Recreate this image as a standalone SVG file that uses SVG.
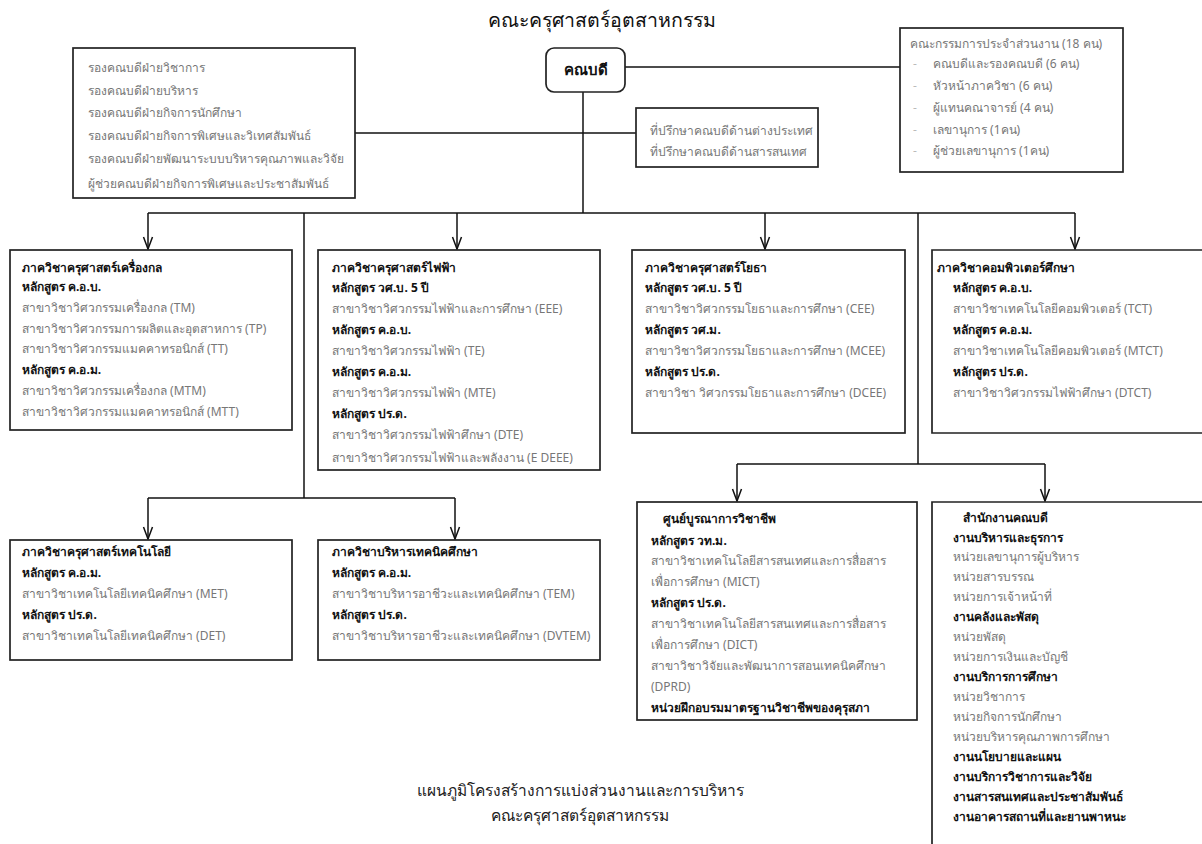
<svg xmlns="http://www.w3.org/2000/svg" width="1202" height="844" viewBox="0 0 1202 844">
<style>
text{font-family:"Noto Sans","DejaVu Sans",sans-serif;font-size:12px;}
.t{fill:#777;}
.b{fill:#111;font-weight:bold;}
.h{fill:#111;font-size:19.5px;}
.c{fill:#222;font-size:15.5px;}
.dash{fill:#bbb;}
.box{fill:#fff;stroke:#222;stroke-width:1.7;}
.ln{fill:none;stroke:#111;stroke-width:1.5;}
</style>
<defs>
<marker id="arr" viewBox="0 0 14 12" refX="13" refY="6" markerWidth="14" markerHeight="12" markerUnits="userSpaceOnUse" orient="auto">
<path d="M1,1.5 L13,6 L1,10.5" fill="none" stroke="#111" stroke-width="1.5"/>
</marker>
</defs>
<rect width="1202" height="844" fill="#fff"/>
<text class="h" x="602" y="27" text-anchor="middle">คณะครุศาสตร์อุตสาหกรรม</text>

<g id="connectors">
<path class="ln" d="M583,92 V213"/>
<path class="ln" d="M355,133 H636"/>
<path class="ln" d="M625,67 H900"/>
<path class="ln" d="M148,213 H1075"/>
<path class="ln" d="M148,213 V249" marker-end="url(#arr)"/>
<path class="ln" d="M457,213 V249" marker-end="url(#arr)"/>
<path class="ln" d="M765,213 V249" marker-end="url(#arr)"/>
<path class="ln" d="M1075,213 V249" marker-end="url(#arr)"/>
<path class="ln" d="M304,213 V498"/>
<path class="ln" d="M148,498 H455"/>
<path class="ln" d="M148,498 V539" marker-end="url(#arr)"/>
<path class="ln" d="M455,498 V539" marker-end="url(#arr)"/>
<path class="ln" d="M918,213 V464"/>
<path class="ln" d="M737,464 H1045"/>
<path class="ln" d="M737,464 V501" marker-end="url(#arr)"/>
<path class="ln" d="M1045,464 V501" marker-end="url(#arr)"/>
</g>

<g id="dean">
<rect class="box" x="546" y="48" width="79" height="44" rx="8"/>
<text class="b" x="585.5" y="75" text-anchor="middle" style="font-size:15px">คณบดี</text>
</g>

<g id="deputies">
<rect class="box" x="73" y="48" width="282" height="150"/>
<text class="t" x="88" y="72">รองคณบดีฝ่ายวิชาการ</text>
<text class="t" x="88" y="95">รองคณบดีฝ่ายบริหาร</text>
<text class="t" x="88" y="117">รองคณบดีฝ่ายกิจการนักศึกษา</text>
<text class="t" x="88" y="140">รองคณบดีฝ่ายกิจการพิเศษและวิเทศสัมพันธ์</text>
<text class="t" x="88" y="163">รองคณบดีฝ่ายพัฒนาระบบบริหารคุณภาพและวิจัย</text>
<text class="t" x="88" y="188">ผู้ช่วยคณบดีฝ่ายกิจการพิเศษและประชาสัมพันธ์</text>
</g>

<g id="advisors">
<rect class="box" x="636" y="108" width="182" height="59"/>
<text class="t" x="650" y="135">ที่ปรึกษาคณบดีด้านต่างประเทศ</text>
<text class="t" x="650" y="156">ที่ปรึกษาคณบดีด้านสารสนเทศ</text>
</g>

<g id="committee">
<rect class="box" x="900" y="28" width="223" height="144"/>
<text class="t" x="910" y="48">คณะกรรมการประจำส่วนงาน (18 คน)</text>
<text class="dash" x="913" y="68">-</text>
<text class="t" x="933" y="68">คณบดีและรองคณบดี (6 คน)</text>
<text class="dash" x="913" y="90">-</text>
<text class="t" x="933" y="90">หัวหน้าภาควิชา (6 คน)</text>
<text class="dash" x="913" y="112">-</text>
<text class="t" x="933" y="112">ผู้แทนคณาจารย์ (4 คน)</text>
<text class="dash" x="913" y="134">-</text>
<text class="t" x="933" y="134">เลขานุการ (1คน)</text>
<text class="dash" x="913" y="155">-</text>
<text class="t" x="933" y="155">ผู้ช่วยเลขานุการ  (1คน)</text>
</g>

<g id="mech">
<rect class="box" x="10" y="250" width="282" height="180"/>
<text class="b" x="22" y="272">ภาควิชาครุศาสตร์เครื่องกล</text>
<text class="b" x="22" y="291">หลักสูตร ค.อ.บ.</text>
<text class="t" x="22" y="312">สาขาวิชาวิศวกรรมเครื่องกล (TM)</text>
<text class="t" x="22" y="333">สาขาวิชาวิศวกรรมการผลิตและอุตสาหการ (TP)</text>
<text class="t" x="22" y="353">สาขาวิชาวิศวกรรมแมคคาทรอนิกส์ (TT)</text>
<text class="b" x="22" y="374">หลักสูตร ค.อ.ม.</text>
<text class="t" x="22" y="395">สาขาวิชาวิศวกรรมเครื่องกล (MTM)</text>
<text class="t" x="22" y="416">สาขาวิชาวิศวกรรมแมคคาทรอนิกส์ (MTT)</text>
</g>

<g id="elec">
<rect class="box" x="318" y="250" width="282" height="220"/>
<text class="b" x="332" y="272">ภาควิชาครุศาสตร์ไฟฟ้า</text>
<text class="b" x="332" y="292">หลักสูตร วศ.บ. 5 ปี</text>
<text class="t" x="332" y="313">สาขาวิชาวิศวกรรมไฟฟ้าและการศึกษา (EEE)</text>
<text class="b" x="332" y="334">หลักสูตร ค.อ.บ.</text>
<text class="t" x="332" y="355">สาขาวิชาวิศวกรรมไฟฟ้า (TE)</text>
<text class="b" x="332" y="376">หลักสูตร ค.อ.ม.</text>
<text class="t" x="332" y="397">สาขาวิชาวิศวกรรมไฟฟ้า (MTE)</text>
<text class="b" x="332" y="418">หลักสูตร ปร.ด.</text>
<text class="t" x="332" y="439">สาขาวิชาวิศวกรรมไฟฟ้าศึกษา (DTE)</text>
<text class="t" x="332" y="462">สาขาวิชาวิศวกรรมไฟฟ้าและพลังงาน (E DEEE)</text>
</g>

<g id="civil">
<rect class="box" x="632" y="250" width="273" height="183"/>
<text class="b" x="645" y="272">ภาควิชาครุศาสตร์โยธา</text>
<text class="b" x="645" y="292">หลักสูตร วศ.บ. 5 ปี</text>
<text class="t" x="645" y="313">สาขาวิชาวิศวกรรมโยธาและการศึกษา (CEE)</text>
<text class="b" x="645" y="334">หลักสูตร วศ.ม.</text>
<text class="t" x="645" y="355">สาขาวิชาวิศวกรรมโยธาและการศึกษา (MCEE)</text>
<text class="b" x="645" y="376">หลักสูตร ปร.ด.</text>
<text class="t" x="645" y="397">สาขาวิชา วิศวกรรมโยธาและการศึกษา (DCEE)</text>
</g>

<g id="comp">
<path class="box" d="M1202,250 H932 V433 H1202"/>
<text class="b" x="937" y="272">ภาควิชาคอมพิวเตอร์ศึกษา</text>
<text class="b" x="953" y="292">หลักสูตร ค.อ.บ.</text>
<text class="t" x="953" y="313">สาขาวิชาเทคโนโลยีคอมพิวเตอร์ (TCT)</text>
<text class="b" x="953" y="334">หลักสูตร ค.อ.ม.</text>
<text class="t" x="953" y="355">สาขาวิชาเทคโนโลยีคอมพิวเตอร์ (MTCT)</text>
<text class="b" x="953" y="376">หลักสูตร ปร.ด.</text>
<text class="t" x="953" y="397">สาขาวิชาวิศวกรรมไฟฟ้าศึกษา (DTCT)</text>
</g>

<g id="tech">
<rect class="box" x="10" y="540" width="282" height="120"/>
<text class="b" x="22" y="556">ภาควิชาครุศาสตร์เทคโนโลยี</text>
<text class="b" x="22" y="577">หลักสูตร ค.อ.ม.</text>
<text class="t" x="22" y="598">สาขาวิชาเทคโนโลยีเทคนิคศึกษา (MET)</text>
<text class="b" x="22" y="619">หลักสูตร ปร.ด.</text>
<text class="t" x="22" y="640">สาขาวิชาเทคโนโลยีเทคนิคศึกษา (DET)</text>
</g>

<g id="admin">
<rect class="box" x="318" y="540" width="282" height="120"/>
<text class="b" x="332" y="556">ภาควิชาบริหารเทคนิคศึกษา</text>
<text class="b" x="332" y="577">หลักสูตร ค.อ.ม.</text>
<text class="t" x="332" y="598">สาขาวิชาบริหารอาชีวะและเทคนิคศึกษา  (TEM)</text>
<text class="b" x="332" y="619">หลักสูตร ปร.ด.</text>
<text class="t" x="332" y="640">สาขาวิชาบริหารอาชีวะและเทคนิคศึกษา (DVTEM)</text>
</g>

<g id="center">
<rect class="box" x="637" y="502" width="280" height="218"/>
<text class="b" x="663" y="523">ศูนย์บูรณาการวิชาชีพ</text>
<text class="b" x="651" y="545">หลักสูตร วท.ม.</text>
<text class="t" x="651" y="565">สาขาวิชาเทคโนโลยีสารสนเทศและการสื่อสาร</text>
<text class="t" x="651" y="586">เพื่อการศึกษา (MICT)</text>
<text class="b" x="651" y="607">หลักสูตร ปร.ด.</text>
<text class="t" x="651" y="628">สาขาวิชาเทคโนโลยีสารสนเทศและการสื่อสาร</text>
<text class="t" x="651" y="649">เพื่อการศึกษา (DICT)</text>
<text class="t" x="651" y="670">สาขาวิชาวิจัยและพัฒนาการสอนเทคนิคศึกษา</text>
<text class="t" x="651" y="691">(DPRD)</text>
<text class="b" x="651" y="712">หน่วยฝึกอบรมมาตรฐานวิชาชีพของคุรุสภา</text>
</g>

<g id="office">
<path class="box" d="M1202,502 H932 V844"/>
<text class="b" x="963" y="522">สำนักงานคณบดี</text>
<text class="b" x="953" y="542">งานบริหารและธุรการ</text>
<text class="t" x="953" y="561">หน่วยเลขานุการผู้บริหาร</text>
<text class="t" x="953" y="581">หน่วยสารบรรณ</text>
<text class="t" x="953" y="601">หน่วยการเจ้าหน้าที่</text>
<text class="b" x="953" y="621">งานคลังและพัสดุ</text>
<text class="t" x="953" y="641">หน่วยพัสดุ</text>
<text class="t" x="953" y="661">หน่วยการเงินและบัญชี</text>
<text class="b" x="953" y="681">งานบริการการศึกษา</text>
<text class="t" x="953" y="701">หน่วยวิชาการ</text>
<text class="t" x="953" y="721">หน่วยกิจการนักศึกษา</text>
<text class="t" x="953" y="741">หน่วยบริหารคุณภาพการศึกษา</text>
<text class="b" x="953" y="761">งานนโยบายและแผน</text>
<text class="b" x="953" y="781">งานบริการวิชาการและวิจัย</text>
<text class="b" x="953" y="801">งานสารสนเทศและประชาสัมพันธ์</text>
<text class="b" x="953" y="821">งานอาคารสถานที่และยานพาหนะ</text>
</g>

<text class="c" x="580" y="796" text-anchor="middle">แผนภูมิโครงสร้างการแบ่งส่วนงานและการบริหาร</text>
<text class="c" x="580" y="821" text-anchor="middle">คณะครุศาสตร์อุตสาหกรรม</text>
</svg>
